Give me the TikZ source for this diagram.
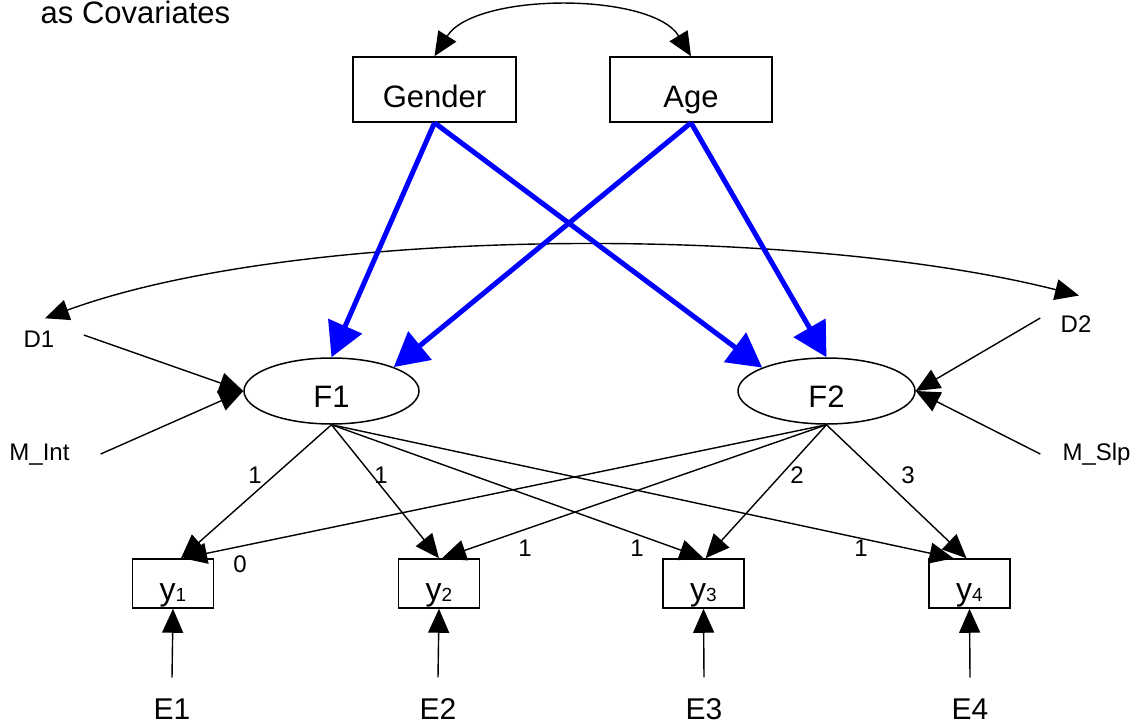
\documentclass[tikz,border=0pt]{standalone}
\usepackage{fontspec}
\setmainfont{Liberation Sans}
\usetikzlibrary{arrows.meta,shapes.geometric}
\newcommand\setfs[1]{\fontsize{#1}{#1}\selectfont}
\begin{document}
\begin{tikzpicture}[x=1pt,y=-1pt,
  line width=1.4pt,
  tipb/.tip={Triangle[length=24pt,width=21pt]},
  arr/.style={-tipb},
  cov/.style={tipb-tipb},
  bluearr/.style={draw=blue,line width=5pt,-{Triangle[length=34pt,width=36pt,fill=blue]}},
  box/.style={draw,line width=1.5pt,rectangle,inner sep=0pt,minimum height=65,font=\setfs{31}},
  ybox/.style={draw,line width=1.5pt,rectangle,inner sep=0pt,minimum width=81,minimum height=49,font=\setfs{32}},
  fac/.style={draw,line width=1.5pt,ellipse,inner sep=0pt,minimum height=66,font=\setfs{31}},
  small/.style={inner sep=0pt,anchor=base,font=\setfs{24}},
  elab/.style={inner sep=0pt,anchor=base,font=\setfs{30}},
  num/.style={inner sep=0pt,font=\setfs{24}}]

\useasboundingbox[fill=white] (0,0) rectangle (1137,725);

% heading fragment
\node[inner sep=0pt,anchor=base west,font=\setfs{31}] (title) at (40,24) {as Covariates};

% covariates
\node[box,minimum width=163] (gender) at (434.5,89.5) {\raisebox{-17.5pt}[0pt][0pt]{Gender}};
\node[box,minimum width=162] (age) at (691,89.5) {\raisebox{-17.5pt}[0pt][0pt]{Age}};

% growth factors
\node[fac,minimum width=175] (f1) at (331.5,391) {\raisebox{-16pt}[0pt][0pt]{F1}};
\node[fac,minimum width=177] (f2) at (826.5,391) {\raisebox{-16pt}[0pt][0pt]{F2}};

% disturbances and means
\node[small] (d1) at (39,347.5) {D1};
\node[small] (mint) at (39.5,460) {M\_Int};
\node[small] (d2) at (1076,332) {D2};
\node[small] (mslp) at (1096.5,460) {M\_Slp};

% observed measures
\node[ybox] (y1) at (173,583.5) {\raisebox{-16.5pt}[0pt][0pt]{y\raisebox{-1.5pt}{\setfs{19}1}}};
\node[ybox] (y2) at (439,583.5) {\raisebox{-16.5pt}[0pt][0pt]{y\raisebox{-1.5pt}{\setfs{19}2}}};
\node[ybox] (y3) at (703.5,583.5) {\raisebox{-16.5pt}[0pt][0pt]{y\raisebox{-1.5pt}{\setfs{19}3}}};
\node[ybox] (y4) at (969.5,583.5) {\raisebox{-16.5pt}[0pt][0pt]{y\raisebox{-1.5pt}{\setfs{19}4}}};

% residuals
\node[elab] (e1) at (172,719) {E1};
\node[elab] (e2) at (438,719) {E2};
\node[elab] (e3) at (704,719) {E3};
\node[elab] (e4) at (970,719) {E4};

% covariances
\draw[cov] (gender.north) .. controls (475,-8) and (652,-8) .. (age.north);
\draw[cov] ([shift={(6,-12)}]d1.north) .. controls (300,225) and (800,225) .. ([shift={(3,-19)}]d2.north);

% covariate effects
\draw[bluearr] (gender.south) -- (f1.north);
\draw[bluearr] (gender.south) -- (f2.160);
\draw[bluearr] (age.south) -- (f1.21);
\draw[bluearr] (age.south) -- (f2.north);

% disturbance and mean paths
\draw[arr] ([shift={(28.7,-12.5)}]d1.base east) -- (f1.west);
\draw[arr] ([shift={(30.5,-6)}]mint.base east) -- (f1.west);
\draw[arr] ([shift={(-19.7,-14)}]d2.base west) -- (f2.east);
\draw[arr] ([shift={(-21.5,-6)}]mslp.base west) -- (f2.east);

% intercept loadings
\draw[arr] (f1.south) -- ([shift={(8,0)}]y1.north);
\draw[arr] (f1.south) -- (y2.north);
\draw[arr] (f1.south) -- (y3.north);
\draw[arr] (f1.south) -- ([shift={(-16,0)}]y4.north);

% slope loadings
\draw[arr] (f2.south) -- ([shift={(10,0)}]y1.north);
\draw[arr] (f2.south) -- ([shift={(3,0)}]y2.north);
\draw[arr] (f2.south) -- ([shift={(2,0)}]y3.north);
\draw[arr] (f2.south) -- ([shift={(-3,0)}]y4.north);

% residual paths
\draw[arr] ([shift={(0,-20)}]e1.north) -- (y1.south);
\draw[arr] ([shift={(0,-20)}]e2.north) -- (y2.south);
\draw[arr] ([shift={(0,-20)}]e3.north) -- (y3.south);
\draw[arr] ([shift={(0,-20)}]e4.north) -- (y4.south);

% loading values
\node[num] (l11) at (255,475) {1};
\node[num] (l12) at (381,475) {1};
\node[num] (l13) at (637,548) {1};
\node[num] (l14) at (861,548) {1};
\node[num] (l21) at (240,564) {0};
\node[num] (l22) at (525,548) {1};
\node[num] (l23) at (797,475) {2};
\node[num] (l24) at (908,475) {3};
\end{tikzpicture}
\end{document}
